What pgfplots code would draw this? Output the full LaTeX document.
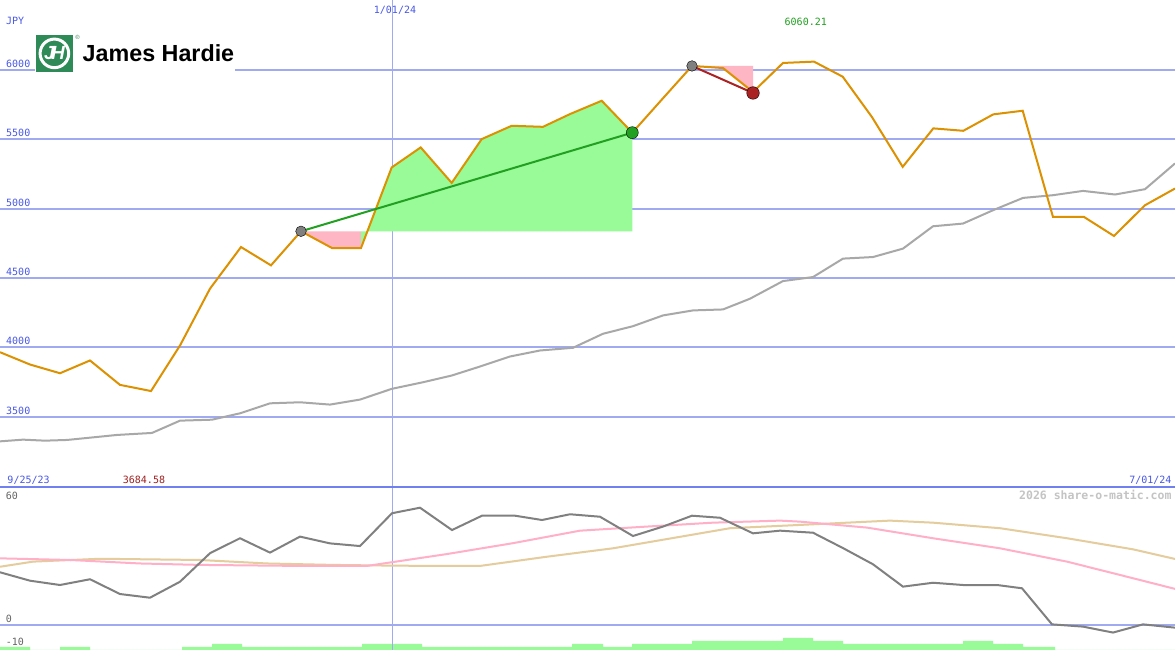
\documentclass[border=0pt]{standalone}
\usepackage{pgfplots}
\pgfplotsset{compat=1.18}
\usepackage{fontspec}
\setmainfont{Liberation Sans}
\newfontfamily\mono{DejaVu Sans Mono}
\definecolor{gridblue}{RGB}{160,170,240}
\definecolor{divblue}{RGB}{112,128,240}
\definecolor{lblblue}{RGB}{72,88,232}
\definecolor{priceorange}{RGB}{220,145,0}
\definecolor{magrey}{RGB}{168,168,168}
\definecolor{fillgreen}{RGB}{152,251,152}
\definecolor{fillpink}{RGB}{255,182,196}
\definecolor{tradegreen}{RGB}{34,160,34}
\definecolor{tradered}{RGB}{170,34,34}
\definecolor{dotgrey}{RGB}{128,128,128}
\definecolor{oscgrey}{RGB}{128,128,128}
\definecolor{oscpink}{RGB}{255,176,200}
\definecolor{osctan}{RGB}{228,204,156}
\definecolor{logogreen}{RGB}{46,139,87}
\definecolor{lowlbl}{RGB}{100,100,100}
\definecolor{wm}{RGB}{196,196,196}
\definecolor{maxgreen}{RGB}{32,160,32}
\definecolor{minred}{RGB}{160,32,32}
\pgfplotsset{panel/.style={scale only axis, anchor=south west, width=1175bp,
  xmin=0, xmax=1175, axis line style={draw=none}, major tick length=0pt,
  xticklabels={}, yticklabels={}, scaled ticks=false}}
\tikzset{lbl/.style={anchor=base west, inner sep=0pt, font=\mono\fontsize{10bp}{12bp}\selectfont}}
\begin{document}
\begin{tikzpicture}[x=1bp,y=1bp]
\fill[white] (0,0) rectangle (1175,650);
% ---------- upper panel ----------
\begin{axis}[panel, at={(0bp,163bp)}, height=487bp, ymin=2992.6, ymax=6504.8,
  xtick={392}, ytick={3500,4000,4500,5000,5500,6000},
  xmajorgrids, ymajorgrids,
  x grid style={gridblue, line width=1bp},
  y grid style={gridblue, line width=2bp}]
\addplot[fill=fillpink, draw=none] coordinates {(301,4836.8) (332,4716) (361,4716) (361,4836.8)};
\addplot[fill=fillgreen, draw=none] coordinates {(361,4836.8) (632.3,4836.8) (632.3,5547.8) (601.7,5778) (570,5682) (543,5590) (511.7,5597.6) (481.7,5501.5) (451.7,5185.7) (420.7,5441.5) (391.7,5297) (361,4716)};
\addplot[fill=fillpink, draw=none] coordinates {(692,6029) (723,6014) (753,5841) (753,6029)};
\addplot[magrey, line width=2bp] coordinates {
(0,3321.7) (23,3334) (45,3326.7) (67,3331.8) (83,3343.3) (117,3367.9) (152,3382.4) (180,3471) (212,3478) (240,3524) (270,3596) (300,3603.5) (330,3586.9) (360,3622.9) (391.7,3700.3) (423,3748) (451.7,3796.4) (480,3861.4) (510,3933.7) (540,3977) (573,3996.5) (603,4097.6) (633,4152.5) (663,4229.9) (693,4266) (723,4273) (750,4350.5) (783,4477.7) (813,4506.6) (843,4639.6) (873,4651) (903,4711.8) (933,4872.9) (963,4892.4) (993,4988.5) (1023,5077.4) (1053,5096.9) (1083,5127.9) (1115,5101.9) (1145,5140.2) (1175,5325.9)};
\addplot[priceorange, line width=2bp] coordinates {
(0,3964.7) (30,3875.8) (60,3813) (90,3905) (120,3729) (151,3684.58) (180,4013) (210,4422.8) (241,4723) (271,4591) (301,4836.8) (332,4716) (361,4716) (391.7,5297) (420.7,5441.5) (451.7,5185.7) (481.7,5501.5) (511.7,5597.6) (543,5590) (570,5682) (601.7,5778) (632.3,5547.8) (662,5788) (692,6029) (723,6014) (753,5841) (783,6050.6) (814,6060.21) (842.7,5951.6) (872,5660) (902.7,5301.4) (933.3,5578.8) (963.3,5561.4) (993.3,5680) (1022.7,5706) (1053,4940) (1084,4940) (1114,4802.8) (1145,5024.6) (1175,5145)};
\addplot[only marks, mark=*, mark size=5.3bp, mark options={fill=dotgrey, draw=none}] coordinates {(301,4836.8) (692,6029)};
\addplot[tradegreen, line width=2bp] coordinates {(301,4836.8) (632.3,5547.8)};
\addplot[tradered, line width=2bp] coordinates {(692,6029) (753,5834)};
\addplot[only marks, mark=*, mark size=6bp, mark options={fill=tradegreen, draw=none}] coordinates {(632.3,5547.8)};
\addplot[only marks, mark=*, mark size=6.3bp, mark options={fill=tradered, draw=none}] coordinates {(753,5834)};
\end{axis}
% ---------- lower panel: bars ----------
\begin{axis}[panel, at={(0bp,0bp)}, height=163bp, ymin=0, ymax=163, xtick=\empty, ytick=\empty]
\addplot[ybar interval, fill=fillgreen, draw=none] coordinates {
(0,3) (30,0) (60,3) (90,0) (121,0) (151,0) (182,3) (212,6) (242,3) (272,3) (302,3) (332,3) (362,6) (392,6) (422,3) (452,3) (482,3) (512,3) (542,3) (572,6) (603,3) (632,6) (662,6) (692,9) (722,9) (753,9) (783,12) (813,9) (843,6) (873,6) (903,6) (933,6) (963,9) (993,6) (1023,3) (1055,0) (1085,0) (1115,0) (1145,0) (1175,0)};
\end{axis}
% ---------- lower panel: oscillators ----------
\begin{axis}[panel, at={(0bp,0bp)}, height=163bp, ymin=-12.2, ymax=67.3,
  xtick={392}, ytick={0}, xmajorgrids, ymajorgrids,
  x grid style={gridblue, line width=1bp},
  y grid style={gridblue, line width=2bp}]
\addplot[osctan, line width=2bp] coordinates {
(0,28.4) (33,30.9) (100,32.3) (200,31.7) (267,30) (333,29.3) (400,28.9) (480,28.8) (547,33.3) (613,37.4) (680,43) (730,47.2) (800,48.8) (890,50.9) (933,49.9) (1000,47.2) (1067,42.3) (1133,36.9) (1175,32.2)};
\addplot[oscpink, line width=2bp] coordinates {
(0,32.5) (70,31.7) (140,30) (200,29.3) (300,28.8) (367,28.8) (400,31.2) (447,34.6) (513,39.9) (580,46) (647,48) (713,49.9) (780,50.9) (800,50.4) (867,47.5) (933,42.3) (1000,37.4) (1067,30.9) (1133,22.8) (1175,17.6)};
\addplot[oscgrey, line width=2bp] coordinates {
(0,25.7) (30,21.6) (60,19.5) (90,22.3) (120,15.1) (150,13.3) (180,21.1) (210,35) (240,42.3) (270,35.3) (300,43.1) (330,39.8) (360,38.5) (392,54.5) (420,57.2) (452,46.3) (482,53.3) (515,53.3) (542,51.2) (570,54) (600,52.8) (633,43.4) (663,48) (692,53.3) (720,52.3) (753,44.7) (780,46) (813,45) (843,37.5) (873,29.6) (903,18.7) (933,20.6) (963,19.5) (997,19.5) (1022,17.9) (1052,0.3) (1083,-0.8) (1113,-3.7) (1143,0.3) (1175,-1.3)};
\end{axis}
% divider
\draw[divblue, line width=2.5bp] (0,162.8) -- (1175,162.8);
% logo
\fill[white] (35,577) rectangle (235,615);
\fill[logogreen] (35.7,578.3) rectangle (73,615);
\draw[white, line width=3bp] (54.4,596.6) circle (14.3);
\node[text=white, inner sep=0pt, font=\fontsize{19bp}{19bp}\selectfont\bfseries\itshape] at (54.4,596.6) {J\kern-3.5bp H};
\node[text=logogreen!70!gray, inner sep=0pt, font=\fontsize{6bp}{6bp}\selectfont] at (77.5,612.3) {®};
\node[anchor=base west, inner sep=0pt, font=\fontsize{23.3bp}{24bp}\selectfont\bfseries] at (82.5,588.3) {James Hardie};
% labels upper
\node[lbl, text=lblblue] at (6,625) {JPY};
\node[lbl, text=lblblue] at (6,582.3) {6000};
\node[lbl, text=lblblue] at (6,513) {5500};
\node[lbl, text=lblblue] at (6,443.6) {5000};
\node[lbl, text=lblblue] at (6,374.3) {4500};
\node[lbl, text=lblblue] at (6,305) {4000};
\node[lbl, text=lblblue] at (6,235.6) {3500};
\node[lbl, text=lblblue, anchor=base] at (395,636.7) {1/01/24};
\node[lbl, text=maxgreen] at (784.5,624.3) {6060.21};
\node[lbl, text=lblblue] at (7.3,166.7) {9/25/23};
\node[lbl, text=minred] at (122.7,166.7) {3684.58};
\node[lbl, text=lblblue, anchor=base east] at (1171.7,166.7) {7/01/24};
% labels lower
\node[anchor=base east, inner sep=0pt, text=wm, font=\mono\bfseries\fontsize{11.5bp}{13bp}\selectfont] at (1171.7,150) {2026 share-o-matic.com};
\node[lbl, text=lowlbl] at (5.7,150.7) {60};
\node[lbl, text=lowlbl] at (5.7,27.7) {0};
\node[lbl, text=lowlbl] at (5.7,4) {-10};
\pgfresetboundingbox
\path (0,0) rectangle (1175,650);
\end{tikzpicture}
\end{document}
